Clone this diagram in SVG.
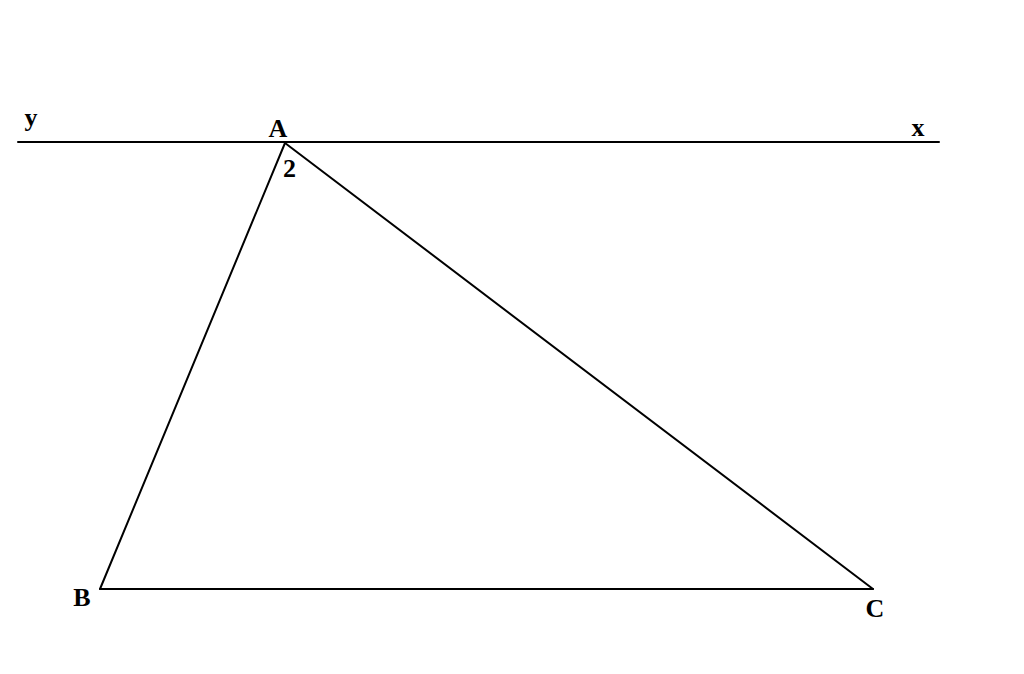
<svg xmlns="http://www.w3.org/2000/svg" width="1024" height="674" viewBox="0 0 1024 674">
<style>
.ln{stroke:#000;stroke-width:2;fill:none;stroke-linecap:round;stroke-linejoin:round}
.lb{font-family:"Liberation Serif","Times New Roman",serif;font-weight:bold;font-size:26px;fill:#000;text-anchor:middle}
</style>
<rect width="1024" height="674" fill="#fff"/>
<g id="connectors">
<line class="ln" x1="18" y1="142" x2="939" y2="142"/>
<line class="ln" x1="285" y1="143" x2="100" y2="589"/>
<line class="ln" x1="285" y1="143" x2="873" y2="589"/>
<line class="ln" x1="100" y1="589" x2="873" y2="589"/>
</g>
<g id="A"><text class="lb" x="278" y="137">A</text><text class="lb" x="289.5" y="177">2</text></g>
<g id="B"><text class="lb" x="82" y="606">B</text></g>
<g id="C"><text class="lb" x="875" y="617">C</text></g>
<g id="y"><text class="lb" x="31" y="126">y</text></g>
<g id="x"><text class="lb" x="918" y="136">x</text></g>
</svg>
